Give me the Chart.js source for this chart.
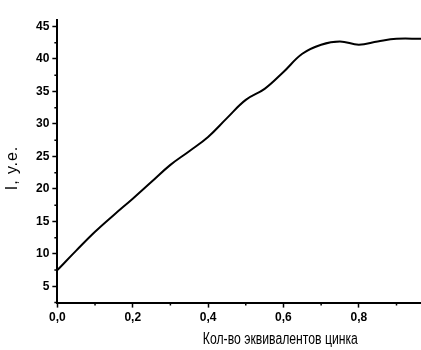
<!DOCTYPE html>
<html>
<head>
<meta charset="utf-8">
<script src="https://cdn.jsdelivr.net/npm/chart.js@4"></script>
<style>
  html, body { margin: 0; padding: 0; background: #fff; }
  #wrap { width: 421px; height: 350px; }
</style>
</head>
<body>
<div id="wrap"><canvas id="grafico" width="421" height="350"></canvas></div>
<script>
// количество эквивалентов цинка и интенсивность, у.е.
const zinc = [0, 0.05, 0.1, 0.15, 0.2, 0.25, 0.3, 0.35, 0.4, 0.45, 0.5, 0.55, 0.6, 0.65, 0.7, 0.75, 0.8, 0.85, 0.9, 0.965];
const intensity = [7.5, 10.5, 13.4, 16.0, 18.5, 21.1, 23.7, 25.8, 28.0, 30.9, 33.7, 35.4, 38.0, 40.8, 42.2, 42.7, 42.2, 42.7, 43.1, 43.1];

const xTicks = [0, 0.2, 0.4, 0.6, 0.8];
const yTicks = [5, 10, 15, 20, 25, 30, 35, 40, 45];
const xMinor = [0.1, 0.3, 0.5, 0.7, 0.9];
const yMinor = [2.5, 7.5, 12.5, 17.5, 22.5, 27.5, 32.5, 37.5, 42.5];

const xTitle = 'Кол-во эквивалентов цинка';
const yTitle = 'I, у.е.';

const tickFont = { family: 'Liberation Sans', size: 12, weight: 'bold' };

// мелкие засечки между основными
const minorTicks = {
    id: 'minorTicks',
    afterDraw(chart) {
        const ctx = chart.ctx;
        const xs = chart.scales.x;
        const ys = chart.scales.y;
        ctx.save();
        ctx.strokeStyle = '#000';
        ctx.lineWidth = 1.5;
        ctx.beginPath();
        xMinor.forEach(v => {
            const px = xs.getPixelForValue(v);
            if (px > xs.right) return;
            ctx.moveTo(px, xs.top);
            ctx.lineTo(px, xs.top + 3);
        });
        yMinor.forEach(v => {
            const py = ys.getPixelForValue(v);
            if (py < ys.top) return;
            ctx.moveTo(ys.right, py);
            ctx.lineTo(ys.right - 3, py);
        });
        ctx.stroke();
        ctx.restore();
    }
};

// подписи осей: узкий шрифт, смещены как на исходном графике
const axisTitles = {
    id: 'axisTitles',
    afterDraw(chart) {
        const ctx = chart.ctx;
        const area = chart.chartArea;
        ctx.save();
        ctx.fillStyle = '#000';
        ctx.textAlign = 'center';
        ctx.textBaseline = 'middle';

        ctx.font = '16px "Liberation Sans"';
        const w = ctx.measureText(xTitle).width;
        const k = 155 / w;
        ctx.translate(area.left + 223, chart.height - 10);
        ctx.scale(k, 1);
        ctx.fillText(xTitle, 0, 0);
        ctx.restore();

        ctx.save();
        ctx.fillStyle = '#000';
        ctx.textAlign = 'center';
        ctx.textBaseline = 'middle';
        ctx.font = '16px "Liberation Sans"';
        ctx.letterSpacing = '1px';
        ctx.translate(13, 168);
        ctx.rotate(-Math.PI / 2);
        ctx.fillText(yTitle, 0, 0);
        ctx.restore();
    }
};

new Chart(document.getElementById('grafico'), {
    type: 'line',
    data: {
        datasets: [{
            data: zinc.map((x, i) => ({ x: x, y: intensity[i] })),
            borderColor: '#000',
            borderWidth: 2,
            pointRadius: 0,
            tension: 0.4,
            fill: false
        }]
    },
    options: {
        responsive: false,
        animation: false,
        layout: { padding: { top: 20, right: 0, bottom: 22, left: 33 } },
        plugins: {
            legend: { display: false },
            tooltip: { enabled: false }
        },
        scales: {
            x: {
                type: 'linear',
                min: 0,
                max: 0.965,
                afterBuildTicks: s => { s.ticks = xTicks.map(v => ({ value: v })); },
                grid: { drawOnChartArea: false, drawTicks: true, tickLength: 5, tickWidth: 1.5, tickColor: '#000' },
                border: { display: true, color: '#000', width: 2 },
                ticks: {
                    color: '#000',
                    font: tickFont,
                    padding: 3,
                    maxRotation: 0,
                    callback: v => v.toFixed(1).replace('.', ',')
                }
            },
            y: {
                min: 2.5,
                max: 46,
                afterBuildTicks: s => { s.ticks = yTicks.map(v => ({ value: v })); },
                grid: { drawOnChartArea: false, drawTicks: true, tickLength: 5, tickWidth: 1.5, tickColor: '#000' },
                border: { display: true, color: '#000', width: 2 },
                ticks: {
                    color: '#000',
                    font: tickFont,
                    padding: 3
                }
            }
        }
    },
    plugins: [minorTicks, axisTitles]
});
</script>
</body>
</html>
